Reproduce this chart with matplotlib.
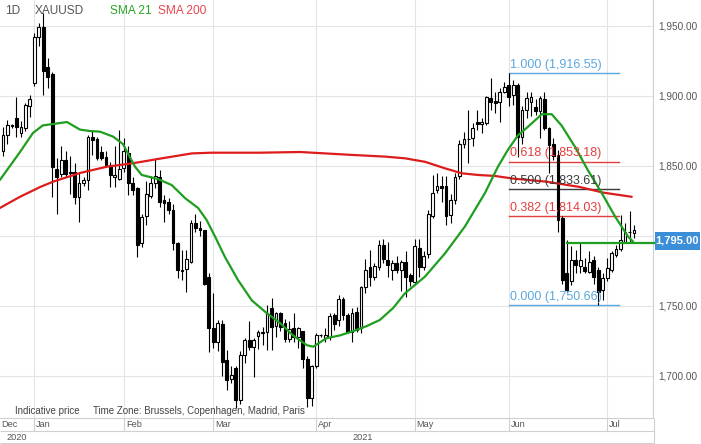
import matplotlib
matplotlib.use("Agg")
import matplotlib.pyplot as plt
from matplotlib.patches import Rectangle
import numpy as np
import pandas as pd

plt.rcParams['font.family'] = ['Liberation Sans', 'DejaVu Sans']

# dias de negociacion (sin 25 dic y 1 ene)
fechas = pd.bdate_range('2020-12-22', '2021-07-09')
fechas = fechas[~fechas.isin(pd.to_datetime(['2020-12-25', '2021-01-01']))]

# velas XAUUSD diarias
apertura = [1861, 1872, 1879.5, 1884, 1873.5, 1877, 1892.5,
            1909, 1942, 1949.5, 1921, 1915.5, 1847.5, 1844, 1854, 1846, 1846, 1828, 1837.5, 1840, 1871,
            1869, 1860, 1856.5, 1851, 1842, 1841,
            1848.5, 1859, 1837.5, 1834, 1795, 1814, 1828.5, 1838, 1842, 1826, 1824.5, 1818.5, 1795, 1776,
            1776.5, 1781.5, 1809.5, 1806, 1804, 1771,
            1734, 1724, 1737, 1711.5, 1698, 1705.5, 1683, 1715, 1726, 1721, 1728.5, 1731, 1731.5, 1748.5,
            1735.5, 1745, 1738, 1726.5, 1734, 1727.5, 1732, 1712, 1684,
            1707, 1729, 1727, 1728, 1743.5, 1740, 1755, 1743.5, 1731.5, 1746, 1734, 1763.5, 1778, 1770.5,
            1778, 1793.5, 1783, 1776, 1781, 1776, 1781.5, 1772,
            1767, 1791.5, 1778, 1787, 1814, 1833, 1836, 1836, 1815, 1826, 1842.5, 1866, 1869.5, 1870,
            1881.5, 1880, 1881, 1898.5, 1896.5, 1896, 1903,
            1908, 1900.5, 1908, 1871, 1890, 1896, 1892, 1889, 1898, 1877, 1866, 1858, 1813, 1773.5,
            1767.5, 1783, 1778.5, 1778, 1774.5, 1783, 1776, 1761.5,
            1770, 1776, 1786.5, 1790.5, 1796, 1803, 1802]
maximo = [1878, 1883, 1880, 1899, 1882, 1895, 1901,
          1945, 1952, 1959, 1927, 1917, 1856, 1864, 1861, 1857, 1852, 1845, 1842, 1872, 1875,
          1871, 1864, 1861, 1853, 1864, 1876,
          1870, 1864, 1842, 1835, 1816, 1839, 1842.5, 1855, 1847, 1829, 1827, 1823, 1796, 1790,
          1790, 1811.5, 1816, 1811, 1804.5, 1773.5,
          1759.5, 1740, 1740, 1718.5, 1707, 1707, 1717.5, 1727, 1739.5, 1727, 1733, 1735, 1751, 1755.5,
          1746, 1746, 1741, 1739, 1745, 1735, 1732, 1714, 1708,
          1730.5, 1730, 1734, 1745, 1745, 1758, 1756.5, 1745, 1748.5, 1749.5, 1764, 1783.5, 1790, 1780.5,
          1797, 1797.5, 1796, 1783, 1785.5, 1783, 1789, 1773.5,
          1797.5, 1798, 1789, 1818.5, 1843.5, 1845, 1843, 1843, 1830, 1845, 1868.5, 1874.5, 1890, 1880.5,
          1890, 1884, 1900, 1912.5, 1903, 1905.5, 1910,
          1916.5, 1911.5, 1909, 1893, 1903, 1903, 1898, 1900, 1903, 1878, 1870, 1861.5, 1814, 1797,
          1792.5, 1790, 1796, 1784, 1789, 1785.5, 1778, 1773.5,
          1784, 1789, 1793.5, 1815, 1809, 1817.5, 1808]
minimo = [1857, 1866, 1877, 1871, 1871, 1875, 1885,
          1907, 1936, 1901, 1906, 1828, 1816, 1842, 1842, 1830, 1823, 1810, 1836, 1833, 1858,
          1854, 1854, 1849, 1835, 1835, 1840,
          1846, 1829, 1829, 1785, 1792, 1808, 1827, 1834, 1821, 1810, 1816, 1790, 1770, 1768.5,
          1760, 1780.5, 1803, 1800, 1765, 1717,
          1720, 1718, 1700, 1690, 1695, 1677, 1680, 1709, 1718.5, 1699.5, 1719, 1722, 1718.5, 1718.5,
          1728, 1732, 1724.5, 1724.5, 1724.5, 1720, 1705.5, 1678, 1678.5,
          1705.5, 1727.5, 1724.5, 1726, 1733, 1736, 1740, 1730.5, 1724.5, 1731.5, 1731, 1759, 1764, 1768.5,
          1775.5, 1781, 1771, 1768.5, 1773.5, 1761, 1756.5, 1764,
          1766, 1771, 1775.5, 1784, 1813, 1830.5, 1824, 1808, 1809, 1823, 1841, 1862.5, 1852, 1864,
          1875.5, 1873.5, 1879, 1890, 1887.5, 1881.5, 1902,
          1892.5, 1893.5, 1856.5, 1866, 1884, 1886, 1886.5, 1870, 1875.5, 1845, 1854, 1803, 1766, 1760,
          1765, 1773.5, 1773.5, 1773.5, 1773.5, 1766, 1750.7, 1754.3,
          1767.5, 1774, 1785, 1789, 1795, 1795, 1798.5]
cierre = [1872, 1879, 1878.5, 1878, 1878, 1893.5, 1898,
          1942, 1949.5, 1918, 1913.5, 1849.5, 1842, 1854, 1844, 1845, 1828, 1837.5, 1840, 1871, 1868.5,
          1856, 1855.5, 1851, 1843.5, 1843.5, 1848,
          1861, 1837.5, 1833, 1793.5, 1813.5, 1830, 1838, 1843, 1824.5, 1823.5, 1818.5, 1795, 1776, 1775,
          1783.5, 1809, 1805.5, 1804, 1766, 1734,
          1724.5, 1737.5, 1710, 1697, 1700.5, 1683, 1715, 1726, 1721, 1726, 1731.5, 1731.5, 1745, 1735,
          1745, 1735, 1726.5, 1733.5, 1728, 1734, 1712, 1684, 1707,
          1729, 1729.5, 1729, 1743, 1737, 1755, 1743.5, 1731.5, 1745, 1733, 1763.5, 1775.5, 1770.5, 1778.5,
          1793.5, 1783.5, 1779, 1781, 1776, 1781.5, 1771, 1767.5,
          1793, 1778, 1786, 1816, 1830.5, 1835.5, 1834, 1814, 1826, 1842, 1866, 1869, 1869, 1877,
          1880, 1881.5, 1899, 1896, 1895, 1903, 1906.5,
          1899.5, 1908, 1871, 1890, 1898.5, 1899, 1889, 1898.5, 1877, 1865, 1857, 1811.5, 1768.5, 1761.5,
          1783, 1779.5, 1783, 1775, 1781.5, 1771, 1760, 1770,
          1777, 1787.5, 1791, 1797, 1803, 1802.5, 1804]

# medias moviles (indice de vela, precio)
sma21_x = [-0.7, 3.8, 6.7, 8.9, 11.2, 14.3, 17.2, 19.4, 21.7, 24.6, 26.8, 29.5, 31.0, 34.6, 37.7,
           40.7, 43.6, 45.5, 47.4, 49.6, 52.5, 55.6, 58.9, 61.9, 64.8, 67.9, 69.3, 72.3, 75.3, 78.2,
           81.3, 84.2, 87.2, 89.8, 94.3, 98.8, 103.2, 107.7, 110.6, 112.8, 115.1, 117.3, 120.4,
           122.6, 124.8, 127.8, 130.7, 133.8, 136.8, 139.7, 140.8]
sma21_y = [1840, 1860, 1873.6, 1879, 1880, 1881.4, 1876, 1875, 1874.5, 1871, 1865.7, 1849.5, 1843.6,
           1840.7, 1836.4, 1827, 1820, 1811.4, 1799.5, 1785, 1768.6, 1754, 1745, 1737.9, 1729, 1722,
           1720.9, 1727, 1729, 1732, 1735.7, 1740, 1748.6, 1759, 1771, 1787.7, 1806.7, 1830.7, 1849.5,
           1861.4, 1872, 1878, 1887, 1887, 1879, 1863.8, 1847, 1830.7, 1813.8, 1799.5, 1796]
sma200_x = [-0.7, 3.8, 8.3, 11.2, 17.2, 23.2, 29.1, 34.6, 42.2, 46.6, 57.4, 66.4, 77.5, 85.4, 89.8,
            94.3, 98.8, 102.5, 106.1, 109.9, 114.0, 121.5, 128.9, 134.1, 140.5]
sma200_y = [1820, 1828, 1835, 1838.8, 1845, 1849.5, 1852, 1855, 1859, 1859.5, 1859.5, 1860, 1858,
            1856.7, 1855.5, 1853, 1848.3, 1844.8, 1843.6, 1842.9, 1841, 1838.8, 1835, 1831, 1828]

# retroceso de Fibonacci y soporte
fib_niveles = [1.000, 0.618, 0.500, 0.382, 0.000]
fib_precios = [1916.55, 1853.18, 1833.61, 1814.03, 1750.66]
fib_colores = ['#5aa8df', '#e43d3d', '#3a3a3a', '#e43d3d', '#5aa8df']
soporte = 1795.00
precios_eje = [1700, 1750, 1800, 1850, 1900, 1950]

W, H = 701, 444
fig = plt.figure(figsize=(W / 100, H / 100), dpi=100)
ax = fig.add_axes([0, 26 / H, 653 / W, 418 / H])
ax.set_xlim(-0.67, 145.25)
ax.set_ylim(1670, 1968.57)

# cuadricula
inicio_mes = [i for i in range(1, len(fechas)) if fechas[i].month != fechas[i - 1].month]
ax.set_xticks(inicio_mes)
ax.set_xticklabels([])
ax.set_yticks(precios_eje)
ax.set_yticklabels([f'{p:,.2f}' for p in precios_eje])
ax.yaxis.tick_right()
ax.tick_params(axis='y', length=0, pad=4, labelsize=7.2, labelcolor='#555555')
ax.tick_params(axis='x', length=0)
ax.grid(True, color='#e4e4e4', lw=0.8)
ax.set_axisbelow(True)
for s in ['top', 'left']:
    ax.spines[s].set_visible(False)
for s in ['right', 'bottom']:
    ax.spines[s].set_color('#d0d0d0')
    ax.spines[s].set_linewidth(0.8)

# velas
idx = np.arange(len(cierre))
o = np.array(apertura)
c = np.array(cierre)
sube = c >= o
ax.vlines(idx, minimo, maximo, color='black', lw=0.8, zorder=2)
ax.bar(idx, np.maximum(np.abs(c - o), 0.3), bottom=np.minimum(o, c), width=0.62,
       color=np.where(sube, 'white', 'black'), edgecolor='black', linewidth=0.8, zorder=3)

# medias
ax.plot(sma200_x, sma200_y, color='#dd1c1c', lw=1.6, zorder=4, solid_capstyle='round')
ax.plot(sma21_x, sma21_y, color='#1f9e1f', lw=1.6, zorder=4, solid_capstyle='round')

# fibonacci
for nivel, precio, col in zip(fib_niveles, fib_precios, fib_colores):
    ax.plot([113, 137.7], [precio, precio], color=col, lw=1.0, zorder=1)
    ax.annotate(f'{nivel:.3f} ({precio:,.2f})', xy=(113.3, precio), xytext=(0, 1.5),
                textcoords='offset points', ha='left', va='bottom', fontsize=9, color=col, zorder=5)

# soporte
ax.plot([126, 145.6], [soporte, soporte], color='#1f9e1f', lw=1.6, zorder=4, clip_on=False)

# capa superior en pixeles
capa = fig.add_axes([0, 0, 1, 1], zorder=5)
capa.set_xlim(0, W)
capa.set_ylim(H, 0)
capa.axis('off')
capa.patch.set_alpha(0)

capa.text(5, 10.5, '1D', fontsize=8.6, color='#555555', va='center')
capa.text(34.5, 10.5, 'XAUUSD', fontsize=8.6, color='#555555', va='center')
capa.text(110, 10.5, 'SMA 21', fontsize=8.6, color='#2aa52a', va='center')
capa.text(158.5, 10.5, 'SMA 200', fontsize=8.6, color='#e8464e', va='center')

capa.text(15, 411, 'Indicative price', fontsize=7, color='#444444', va='center')
capa.text(93, 411, 'Time Zone: Brussels, Copenhagen, Madrid, Paris', fontsize=7, color='#444444', va='center')

# filas de meses y anios
capa.hlines([431, 442.5], 0, 654, color='#d0d0d0', lw=0.8)
capa.vlines(654, 418, 444, color='#d0d0d0', lw=0.8)
px_mes = [3.0 + i * 4.475 for i in inicio_mes]
capa.vlines(px_mes, 418, 431, color='#d0d0d0', lw=0.8)
capa.text(1, 424.5, fechas[0].strftime('%b'), fontsize=6.6, color='#555555', va='center')
for i, px in zip(inicio_mes, px_mes):
    capa.text(px + 2, 424.5, fechas[i].strftime('%b'), fontsize=6.6, color='#555555', va='center')
capa.text(6, 437, '2020', fontsize=6.6, color='#555555', va='center')
capa.text(352, 437, '2021', fontsize=6.6, color='#555555', va='center')

# etiqueta de precio
capa.add_patch(Rectangle((655, 231.5), 45, 18, facecolor='#3b8fd9', edgecolor='none'))
capa.text(677.5, 240.8, f'{soporte:,.2f}', fontsize=8, fontweight='bold', color='white',
          ha='center', va='center')

fig.savefig('out.png', dpi=100)
